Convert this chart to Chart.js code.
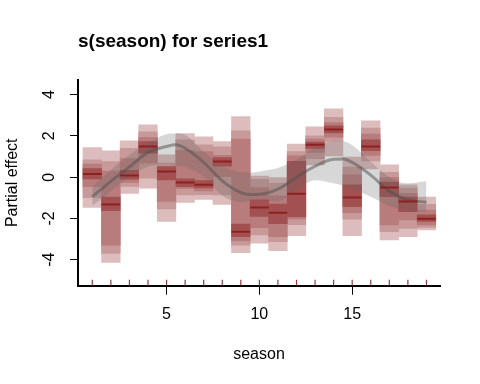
<!DOCTYPE html>
<html>
<head>
<meta charset="utf-8">
<script src="https://cdn.jsdelivr.net/npm/chart.js@4.4.1/dist/chart.umd.min.js"></script>
<style>
  html, body { margin: 0; padding: 0; background: #fff; }
  #wrap { width: 480px; height: 384px; }
</style>
</head>
<body>
<div id="wrap"><canvas id="chart" width="480" height="384"></canvas></div>
<script>
// posterior quantile boxes per season
const seasons = [1, 2, 3, 4, 5, 6, 7, 8, 9, 10, 11, 12, 13, 14, 15, 16, 17, 18, 19];
const outerHi = [1.44, 1.28, 1.76, 2.54, 1.08, 2.11, 1.95, 1.73, 2.94, 0.05, 0.00, 1.61, 2.44, 3.31, 0.98, 2.73, 0.60, -0.37, -0.97];
const outerLo = [-1.47, -4.13, -0.79, -0.53, -2.15, -1.22, -1.08, -1.32, -3.66, -3.20, -3.56, -2.84, 0.60, 1.03, -2.83, 0.40, -3.04, -2.88, -2.56];
const midHi = [0.84, 0.76, 1.40, 2.20, 0.68, 1.81, 1.57, 1.47, 2.25, -0.10, -0.30, 1.24, 2.00, 2.90, 0.49, 2.38, 0.24, -0.53, -1.31];
const midLo = [-0.99, -3.70, -0.45, -0.05, -1.54, -0.86, -0.85, -0.86, -3.29, -2.80, -3.12, -2.30, 0.90, 1.73, -2.04, 0.79, -2.64, -2.48, -2.43];
const innerHi = [0.63, 0.30, 0.90, 1.93, 0.55, 1.30, 1.24, 1.06, 1.85, -0.50, -0.90, 1.03, 1.85, 2.65, 0.11, 2.09, -0.02, -0.78, -1.59];
const innerLo = [-0.46, -3.29, -0.25, 0.68, -1.18, -0.55, -0.67, 0.00, -3.09, -2.45, -2.88, -2.02, 1.20, 1.94, -1.72, 1.05, -2.32, -2.07, -2.32];
const coreHi = [0.42, -0.97, 0.33, 1.73, 0.51, -0.08, -0.17, 0.95, -2.27, -1.10, -1.30, 0.77, 1.70, 2.49, -0.37, 1.81, -0.24, -0.97, -1.83];
const coreLo = [-0.08, -1.62, -0.10, 1.16, -0.13, -0.46, -0.52, 0.53, -2.88, -1.90, -2.25, -1.92, 1.40, 2.14, -1.43, 1.28, -0.94, -1.67, -2.15];
const median = [0.16, -1.32, 0.08, 1.49, 0.27, -0.26, -0.37, 0.76, -2.64, -1.47, -1.72, -0.80, 1.57, 2.31, -0.99, 1.49, -0.50, -1.18, -2.02];

// smooth function and its interval
const smoothX = [1, 2, 3, 4, 5, 5.5, 6, 7, 8, 9, 9.5, 10, 11, 12, 13, 14, 14.5, 15, 16, 17, 18, 19];
const smoothMean = [-0.94, -0.20, 0.50, 1.20, 1.49, 1.57, 1.40, 0.72, -0.18, -0.75, -0.84, -0.83, -0.58, 0.00, 0.53, 0.87, 0.88, 0.72, 0.10, -0.68, -1.10, -1.21];
const smoothUpper = [-0.46, 0.35, 1.08, 1.65, 2.08, 2.12, 2.05, 1.25, 0.55, 0.25, 0.22, 0.28, 0.45, 0.84, 1.45, 1.73, 1.73, 1.55, 0.75, 0.00, -0.30, -0.20];
const smoothLower = [-1.39, -0.70, 0.03, 0.50, 0.60, 0.55, 0.50, 0.03, -0.90, -1.20, -1.15, -1.10, -1.18, -0.60, -0.15, -0.30, -0.40, -0.55, -0.95, -1.40, -1.62, -1.70];

const xTicks = [5, 10, 15];
const yTicks = [-4, -2, 0, 2, 4];

const FONT = "'Liberation Sans', Arial, sans-serif";
const X_MIN = 0.23, X_MAX = 19.73;
const Y_MIN = -5.26, Y_MAX = 4.72;

const boxLayer = (lo, hi, color, order) => ({
  type: 'bar',
  data: seasons.map((s, i) => ({ x: s, y: [lo[i], hi[i]] })),
  backgroundColor: color,
  borderWidth: 0,
  grouped: false,
  barPercentage: 1,
  categoryPercentage: 1,
  order
});

const curve = (ys, extra) => Object.assign({
  type: 'line',
  data: smoothX.map((x, i) => ({ x, y: ys[i] })),
  pointRadius: 0,
  cubicInterpolationMode: 'monotone'
}, extra);

new Chart(document.getElementById('chart'), {
  type: 'scatter',
  data: {
    datasets: [
      boxLayer(outerLo, outerHi, '#DCBCBC', 14),
      boxLayer(midLo, midHi, '#C79999', 13),
      boxLayer(innerLo, innerHi, '#B97C7C', 12),
      boxLayer(coreLo, coreHi, '#A25050', 11),
      curve(smoothUpper, { borderWidth: 0, fill: '+1', backgroundColor: 'rgba(100,100,100,0.26)', order: 4 }),
      curve(smoothLower, { borderWidth: 0, fill: false, order: 4 }),
      curve(smoothMean, { borderWidth: 3, borderColor: 'rgba(80,80,80,0.5)', fill: false, order: 3 }),
      {
        type: 'scatter',
        data: seasons.map((s, i) => ({ x: s, y: median[i] })),
        pointStyle: 'line',
        pointRadius: 9.3,
        borderWidth: 2,
        borderColor: '#8F2020',
        order: 1
      },
      {
        // rug marks along the bottom axis
        type: 'scatter',
        data: seasons.map(s => ({ x: s, y: Y_MIN + 0.14 })),
        pointStyle: 'line',
        rotation: 90,
        pointRadius: 3,
        borderWidth: 1.2,
        borderColor: 'rgb(150,60,60)',
        order: 1
      }
    ]
  },
  options: {
    responsive: false,
    animation: false,
    events: [],
    layout: { padding: { left: 0, right: 40, top: 0, bottom: 0 } },
    scales: {
      x: {
        type: 'linear',
        min: X_MIN,
        max: X_MAX,
        offset: false,
        afterBuildTicks: axis => { axis.ticks = xTicks.map(v => ({ value: v })); },
        afterFit: axis => { axis.height = 98.3; },
        grid: { offset: false, drawOnChartArea: false, tickLength: 9, tickColor: '#000', tickWidth: 1 },
        border: { color: '#000', width: 2 },
        ticks: { color: '#000', font: { family: FONT, size: 16 }, padding: 10.7, maxRotation: 0, autoSkip: false },
        title: { display: true, text: 'season', color: '#000', font: { family: FONT, size: 16 }, padding: { top: 0, bottom: 19.4 } }
      },
      y: {
        type: 'linear',
        min: Y_MIN,
        max: Y_MAX,
        afterBuildTicks: axis => { axis.ticks = yTicks.map(v => ({ value: v })); },
        afterFit: axis => { axis.width = 78; },
        grid: { offset: false, drawOnChartArea: false, tickLength: 8, tickColor: '#000', tickWidth: 1 },
        border: { color: '#000', width: 2 },
        ticks: { color: '#000', font: { family: FONT, size: 16 }, padding: 13, minRotation: 90, maxRotation: 90, crossAlign: 'center' },
        title: { display: true, text: 'Partial effect', color: '#000', font: { family: FONT, size: 16 }, padding: { top: 3, bottom: 0 } }
      }
    },
    plugins: {
      legend: { display: false },
      tooltip: { enabled: false },
      title: {
        display: true,
        text: 's(season) for series1',
        align: 'start',
        fullSize: false,
        color: '#000',
        font: { family: FONT, size: 19, weight: 'bold' },
        padding: { top: 30, bottom: 27 }
      }
    }
  }
});
</script>
</body>
</html>
